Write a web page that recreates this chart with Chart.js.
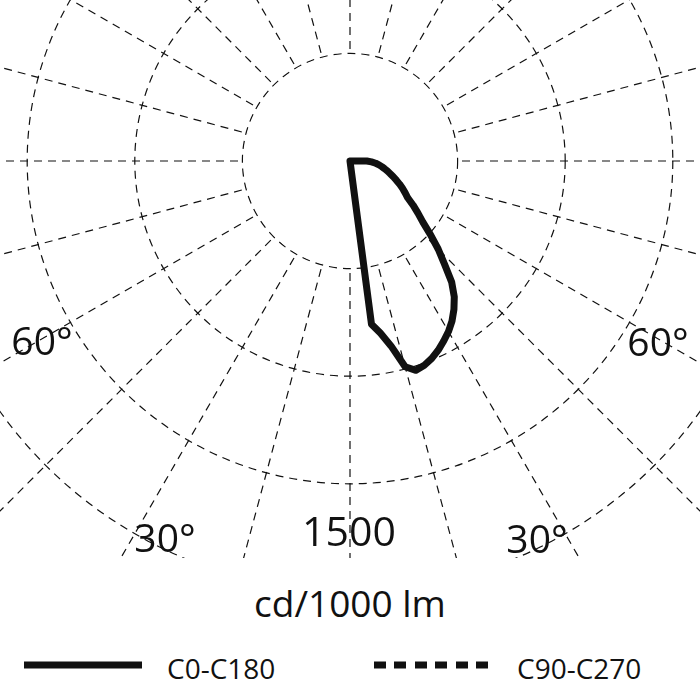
<!DOCTYPE html>
<html>
<head>
<meta charset="utf-8">
<script src="https://cdn.jsdelivr.net/npm/chart.js@4.4.0/dist/chart.umd.min.js"></script>
<style>
  html, body { margin: 0; padding: 0; background: #fff; }
  body { width: 700px; height: 700px; position: relative; overflow: hidden; font-family: "Open Sans", "Noto Sans", sans-serif; color: #111; }
  #clip { position: absolute; left: 0; top: 0; width: 700px; height: 558px; overflow: hidden; }
  #wrap { position: absolute; left: -188px; top: -377px; width: 1076px; height: 1076px; }
  .lbl { position: absolute; transform: translate(-50%, -50%); line-height: 1; white-space: nowrap; }
  .leg { position: absolute; line-height: 1; white-space: nowrap; font-size: 28px; transform: translateY(-50%); }
  .sw { position: absolute; height: 7px; transform: translateY(-50%); }
</style>
</head>
<body>
<div id="clip"><div id="wrap"><canvas id="c" width="1076" height="1076"></canvas></div></div>

<div class="lbl" style="left:42px;top:339px;font-size:39px;">60°</div>
<div class="lbl" style="left:658px;top:340px;font-size:39px;">60°</div>
<div class="lbl" style="left:165px;top:536px;font-size:39px;">30°</div>
<div class="lbl" style="left:537px;top:537px;font-size:39px;">30°</div>
<div class="lbl" id="scaleLbl" style="left:349px;top:530px;font-size:41px;"></div>
<div class="lbl" id="unitLbl" style="left:350px;top:602px;font-size:37px;"></div>

<div class="sw" style="left:24px;top:665px;width:118px;background:#111;"></div>
<div class="leg" id="leg0" style="left:167px;top:668px;"></div>
<div class="sw" style="left:374px;top:665px;width:114px;background:repeating-linear-gradient(to right,#111 0 12px,transparent 12px 20.4px);"></div>
<div class="leg" id="leg1" style="left:517px;top:668px;"></div>

<script>
// ---- data ----
const seriesNames = ["C0-C180", "C90-C270"];
const unitLabel = "cd/1000 lm";
const scaleLabel = "1500";
const ringTicks = [500, 1000, 1500, 2000, 2500];
// gamma angles (deg from nadir) on the C0 side
const gamma = [0, 2.5, 5, 7.5, 10, 12.5, 15, 17.5, 20, 22.5, 25, 27.5, 30, 32.5, 35, 37.5, 40, 42.5, 45,
               47.5, 50, 52.5, 55, 57.5, 60, 62.5, 65, 67.5, 70, 72.5, 75, 77.5, 80, 82.5, 85, 87.5, 90];
// intensity, cd/1000 lm, C0 half-plane
const c0 = [0, 0, 0, 765, 812, 880, 990, 1020, 1010, 993, 970, 943, 915, 882, 842, 796, 735, 650, 580,
            508, 442, 398, 358, 318, 296, 275, 254, 233, 214, 196, 180, 164, 150, 136, 120, 100, 78];
// C180 half-plane (no emission)
const c180 = [0, 0, 0, 0, 0, 0, 0, 0, 0, 0, 0, 0, 0, 0, 0, 0, 0, 0, 0,
              0, 0, 0, 0, 0, 0, 0, 0, 0, 0, 0, 0, 0, 0, 0, 0, 0, 0];
// C90-C270 plane (not emitting in this view)
const c90 = [0, 0, 0, 0, 0, 0, 0, 0, 0, 0, 0, 0, 0, 0, 0, 0, 0, 0, 0,
             0, 0, 0, 0, 0, 0, 0, 0, 0, 0, 0, 0, 0, 0, 0, 0, 0, 0];

document.getElementById('scaleLbl').textContent = scaleLabel;
document.getElementById('unitLbl').textContent = unitLabel;
document.getElementById('leg0').textContent = seriesNames[0];
document.getElementById('leg1').textContent = seriesNames[1];

// ---- build full-circle radar table (clockwise from nadir = toward C180 side) ----
const STEP = 2.5;
const N = 360 / STEP;
const labels = [];
for (let i = 0; i < N; i++) labels.push((i * STEP) + "°");
function fullCircle(right, left) {
  const arr = new Array(N).fill(0);
  gamma.forEach((g, k) => {
    const iR = Math.round((360 - g) / STEP) % N;
    const iL = Math.round(g / STEP) % N;
    arr[iL] = left[k];
    arr[iR] = right[k];
  });
  return arr;
}
const dataA = fullCircle(c0, c180);
const dataB = fullCircle(c90, c90);

const innerMask = {
  id: 'innerMask',
  beforeDatasetsDraw(chart) {
    const s = chart.scales.r;
    const ctx = chart.ctx;
    const r = s.getDistanceFromCenterForValue(ringTicks[0]) - 1;
    ctx.save();
    ctx.fillStyle = '#fff';
    ctx.beginPath();
    ctx.arc(s.xCenter, s.yCenter, r, 0, Math.PI * 2);
    ctx.fill();
    ctx.restore();
  }
};

new Chart(document.getElementById('c'), {
  type: 'radar',
  data: {
    labels: labels,
    datasets: [
      { label: seriesNames[0], data: dataA, borderColor: '#111', borderWidth: 7, fill: false,
        pointRadius: 0, borderJoinStyle: 'round', tension: 0 },
      { label: seriesNames[1], data: dataB, borderColor: '#111', borderWidth: 6, borderDash: [12, 8],
        fill: false, pointRadius: 0, tension: 0 }
    ]
  },
  options: {
    responsive: false,
    animation: false,
    events: [],
    layout: { padding: 0 },
    plugins: { legend: { display: false }, tooltip: { enabled: false } },
    scales: {
      r: {
        min: 0,
        max: ringTicks[ringTicks.length - 1],
        startAngle: 180,
        ticks: { display: false, stepSize: ringTicks[0] },
        pointLabels: { display: false },
        grid: { circular: true, color: '#111', lineWidth: 1.2, borderDash: [8, 6] },
        border: { dash: [8, 6] },
        angleLines: {
          display: true,
          color: '#111',
          lineWidth: (ctx) => (ctx.index % 6 === 0 ? 1.2 : 0),
          borderDash: [8, 6]
        }
      }
    }
  },
  plugins: [innerMask]
});
</script>
</body>
</html>
